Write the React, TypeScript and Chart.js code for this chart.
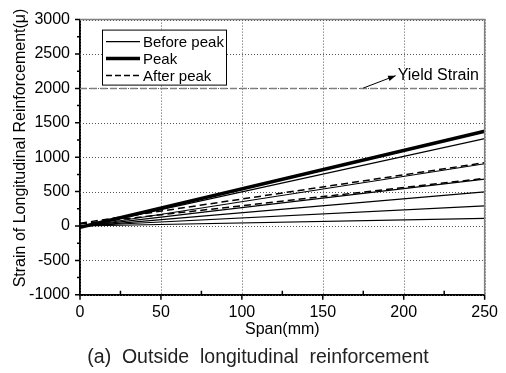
import React, { useEffect, useRef } from "react";
import { Chart, registerables } from "chart.js";
Chart.register(...registerables);

// ---- data ----
const spanMm = [0, 250];
const beforePeak1 = [0, 110];
const beforePeak2 = [0, 292];
const beforePeak3 = [-10, 495];
const beforePeak4 = [-10, 682];
const beforePeak5 = [-15, 905];
const beforePeak6 = [-20, 1270];
const peak = [-20, 1378];
const afterPeak1 = [30, 692];
const afterPeak2 = [40, 920];
const yieldStrain = [2000, 2000];
const xTickValues = [0, 50, 100, 150, 200, 250];
const yTickValues = [-1000, -500, 0, 500, 1000, 1500, 2000, 2500, 3000];
const legendLabels = ["Before peak", "Peak", "After peak"];
const yieldLabel = "Yield Strain";
const xTitle = "Span(mm)";
const yTitle = "Strain of Longitudinal Reinforcement(\u03bc)";
const captionText = "(a)  Outside  longitudinal  reinforcement";
// annotation anchor (data coords): arrow tail, arrow head
const arrowTail = { x: 175, y: 2005 };
const arrowHead = { x: 195, y: 2185 };

const FONT = "'Liberation Sans', Arial, sans-serif";

const pts = (ys: number[]) => ys.map((v, i) => ({ x: spanMm[i], y: v }));

const solidStyle = { borderColor: "#000", borderWidth: 1.2, pointRadius: 0, tension: 0 };
const peakStyle = { borderColor: "#000", borderWidth: 3.5, pointRadius: 0, tension: 0 };
const dashStyle = { borderColor: "#000", borderWidth: 1.5, borderDash: [7, 4], pointRadius: 0, tension: 0 };

const legendStyles = [
  { width: 1.2, dash: [] as number[] },
  { width: 3.5, dash: [] as number[] },
  { width: 1.5, dash: [6, 3] },
];

const decor = {
  id: "decor",
  beforeDatasetsDraw(chart: any) {
    const { ctx, chartArea: a, scales } = chart;
    const x = scales.x;
    const y = scales.y;
    ctx.save();
    ctx.strokeStyle = "#555";
    ctx.lineWidth = 1;
    ctx.setLineDash([1, 2]);
    ctx.beginPath();
    xTickValues.forEach((v) => {
      const px = Math.round(x.getPixelForValue(v)) + 0.5;
      ctx.moveTo(px, a.top);
      ctx.lineTo(px, a.bottom);
    });
    yTickValues.forEach((v) => {
      const py = Math.round(y.getPixelForValue(v)) + 0.5;
      ctx.moveTo(a.left, py);
      ctx.lineTo(a.right, py);
    });
    ctx.stroke();
    ctx.restore();
  },
  afterDraw(chart: any) {
    const { ctx, chartArea: a, scales } = chart;
    const x = scales.x;
    const y = scales.y;
    ctx.save();
    // frame top/right
    ctx.strokeStyle = "#808080";
    ctx.lineWidth = 1.5;
    ctx.beginPath();
    ctx.moveTo(a.left, a.top);
    ctx.lineTo(a.right, a.top);
    ctx.lineTo(a.right, a.bottom);
    ctx.stroke();

    // tick marks
    ctx.strokeStyle = "#000";
    ctx.lineWidth = 1.5;
    ctx.beginPath();
    for (let i = 0; i < yTickValues.length; i++) {
      const py = y.getPixelForValue(yTickValues[i]);
      ctx.moveTo(a.left - 5, py);
      ctx.lineTo(a.left, py);
      if (i < yTickValues.length - 1) {
        const pm = y.getPixelForValue((yTickValues[i] + yTickValues[i + 1]) / 2);
        ctx.moveTo(a.left - 3, pm);
        ctx.lineTo(a.left, pm);
      }
    }
    for (let i = 0; i < xTickValues.length; i++) {
      const px = x.getPixelForValue(xTickValues[i]);
      ctx.moveTo(px, a.bottom);
      ctx.lineTo(px, a.bottom + 5);
      if (i < xTickValues.length - 1) {
        const pm = x.getPixelForValue((xTickValues[i] + xTickValues[i + 1]) / 2);
        ctx.moveTo(pm, a.bottom - 4);
        ctx.lineTo(pm, a.bottom);
      }
    }
    ctx.stroke();

    // y-axis title
    ctx.save();
    ctx.translate(21, 148);
    ctx.rotate(-Math.PI / 2);
    ctx.font = `16px ${FONT}`;
    ctx.textAlign = "center";
    ctx.textBaseline = "middle";
    ctx.fillStyle = "#000";
    ctx.fillText(yTitle, 0, 0);
    ctx.restore();

    // caption (space reserved by the title plugin)
    ctx.save();
    ctx.font = `19.5px ${FONT}`;
    ctx.textAlign = "center";
    ctx.textBaseline = "middle";
    ctx.fillStyle = "#222";
    ctx.fillText(captionText, 258, chart.height - 15);
    ctx.restore();

    // legend box
    const bx = a.left + 22;
    const by = a.top + 10;
    const bw = 124;
    const bh = 55;
    ctx.fillStyle = "#fff";
    ctx.fillRect(bx, by, bw, bh);
    ctx.strokeStyle = "#000";
    ctx.lineWidth = 1;
    ctx.strokeRect(bx + 0.5, by + 0.5, bw, bh);
    ctx.font = `15px ${FONT}`;
    ctx.textBaseline = "middle";
    ctx.textAlign = "left";
    ctx.fillStyle = "#000";
    legendLabels.forEach((lab, i) => {
      const ry = by + 12 + i * 17;
      const st = legendStyles[i];
      ctx.beginPath();
      ctx.lineWidth = st.width;
      ctx.setLineDash(st.dash);
      ctx.moveTo(bx + 4, ry);
      ctx.lineTo(bx + 38, ry);
      ctx.stroke();
      ctx.setLineDash([]);
      ctx.fillText(lab, bx + 41, ry + 1);
    });

    // yield strain annotation
    const tx = x.getPixelForValue(arrowTail.x);
    const ty = y.getPixelForValue(arrowTail.y);
    const hx = x.getPixelForValue(arrowHead.x);
    const hy = y.getPixelForValue(arrowHead.y);
    ctx.strokeStyle = "#000";
    ctx.lineWidth = 1;
    ctx.beginPath();
    ctx.moveTo(tx, ty);
    ctx.lineTo(hx, hy);
    ctx.stroke();
    const ang = Math.atan2(hy - ty, hx - tx);
    ctx.beginPath();
    ctx.moveTo(hx, hy);
    ctx.lineTo(hx - 8 * Math.cos(ang - 0.35), hy - 8 * Math.sin(ang - 0.35));
    ctx.lineTo(hx - 8 * Math.cos(ang + 0.35), hy - 8 * Math.sin(ang + 0.35));
    ctx.closePath();
    ctx.fillStyle = "#000";
    ctx.fill();
    ctx.font = `16px ${FONT}`;
    ctx.textBaseline = "middle";
    ctx.fillText(yieldLabel, hx + 2, hy);
    ctx.restore();
  },
};

export default function App() {
  const ref = useRef<HTMLCanvasElement | null>(null);
  useEffect(() => {
    document.body.style.margin = "0";
    const chart = new Chart(ref.current as HTMLCanvasElement, {
      type: "line",
      data: {
        datasets: [
          { label: "Yield", data: pts(yieldStrain), borderColor: "#808080", borderWidth: 1.5, borderDash: [7, 3], pointRadius: 0 },
          { label: legendLabels[0], data: pts(beforePeak1), ...solidStyle },
          { label: legendLabels[0], data: pts(beforePeak2), ...solidStyle },
          { label: legendLabels[0], data: pts(beforePeak3), ...solidStyle },
          { label: legendLabels[0], data: pts(beforePeak4), ...solidStyle },
          { label: legendLabels[0], data: pts(beforePeak5), ...solidStyle },
          { label: legendLabels[0], data: pts(beforePeak6), ...solidStyle },
          { label: legendLabels[2], data: pts(afterPeak1), ...dashStyle },
          { label: legendLabels[2], data: pts(afterPeak2), ...dashStyle },
          { label: legendLabels[1], data: pts(peak), ...peakStyle },
        ] as any,
      },
      options: {
        animation: false,
        responsive: false,
        events: [],
        layout: { padding: { top: 13, right: 18, left: 0, bottom: 0 } },
        plugins: {
          legend: { display: false },
          tooltip: { enabled: false },
          title: {
            display: true,
            position: "bottom",
            text: captionText,
            color: "rgba(0,0,0,0)",
            font: { family: FONT, size: 19, weight: "normal" },
            padding: { top: 7, bottom: 4 },
          },
        },
        scales: {
          x: {
            type: "linear",
            min: 0,
            max: 250,
            afterBuildTicks: (s: any) => {
              s.ticks = xTickValues.map((v) => ({ value: v }));
            },
            afterFit: (s: any) => {
              s.height = 44.4;
            },
            grid: { display: false, drawTicks: false },
            border: { display: true, color: "#000", width: 2 },
            ticks: { color: "#000", padding: 8, maxRotation: 0, font: { family: FONT, size: 16 }, callback: (v: any) => String(v) },
            title: { display: true, text: xTitle, color: "#000", font: { family: FONT, size: 16 }, padding: { top: 0, bottom: 0 } },
          },
          y: {
            type: "linear",
            min: -1000,
            max: 3000,
            afterBuildTicks: (s: any) => {
              s.ticks = yTickValues.map((v) => ({ value: v }));
            },
            afterFit: (s: any) => {
              s.width = 80;
            },
            grid: { display: false, drawTicks: false },
            border: { display: true, color: "#000", width: 2 },
            ticks: { color: "#000", padding: 10, font: { family: FONT, size: 16 }, callback: (v: any) => String(v) },
            title: { display: false },
          },
        },
      },
      plugins: [decor],
    } as any);
    return () => chart.destroy();
  }, []);
  return (
    <div style={{ position: "absolute", left: 0, top: 0, width: 506, height: 373 }}>
      <canvas ref={ref} width={506} height={373} style={{ display: "block" }} />
    </div>
  );
}
